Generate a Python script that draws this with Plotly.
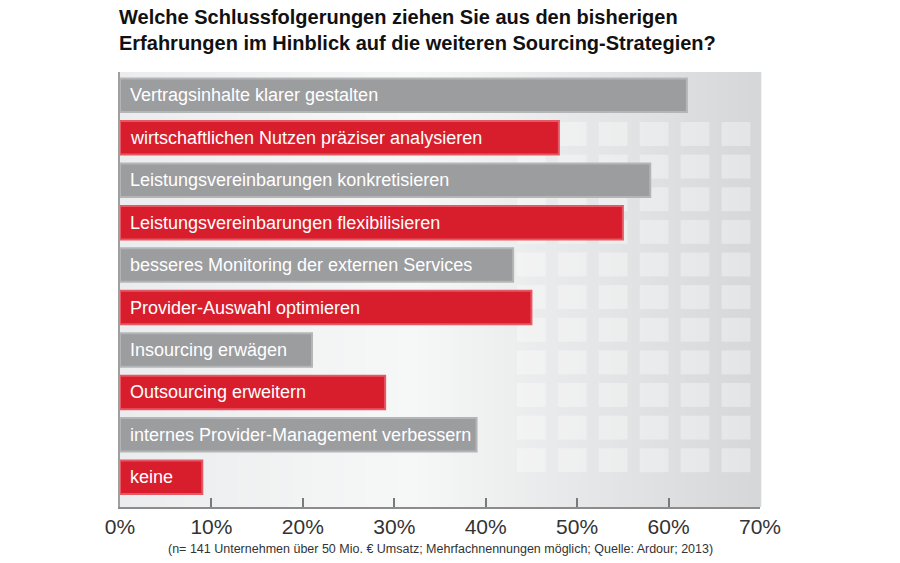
import plotly.graph_objects as go

# Daten aus der Grafik
kategorien = [
    "Vertragsinhalte klarer gestalten",
    "wirtschaftlichen Nutzen präziser analysieren",
    "Leistungsvereinbarungen konkretisieren",
    "Leistungsvereinbarungen flexibilisieren",
    "besseres Monitoring der externen Services",
    "Provider-Auswahl optimieren",
    "Insourcing erwägen",
    "Outsourcing erweitern",
    "internes Provider-Management verbessern",
    "keine",
]
werte = [62, 48, 58, 55, 43, 45, 21, 29, 39, 9]
tick_werte = [0, 10, 20, 30, 40, 50, 60, 70]
tick_text = ["0%", "10%", "20%", "30%", "40%", "50%", "60%", "70%"]

titel = ("Welche Schlussfolgerungen ziehen Sie aus den bisherigen<br>"
         "Erfahrungen im Hinblick auf die weiteren Sourcing-Strategien?")
quelle = ("(n= 141 Unternehmen über 50 Mio. € Umsatz; Mehrfachnennungen möglich; "
          "Quelle: Ardour; 2013)")

GRAU = "#9c9d9f"
GRAU_RAND = "#b4b5b7"
ROT = "#d81e2c"
ROT_RAND = "#e65863"

farben = [GRAU if i % 2 == 0 else ROT for i in range(len(kategorien))]
rand = [GRAU_RAND if i % 2 == 0 else ROT_RAND for i in range(len(kategorien))]

fig = go.Figure()

fig.add_trace(go.Bar(
    x=werte,
    y=kategorien,
    orientation="h",
    width=0.79,
    marker=dict(color=farben, line=dict(color=rand, width=2)),
    hoverinfo="x+y",
    showlegend=False,
))

# Beschriftung in den Balken
for kat in kategorien:
    fig.add_annotation(
        x=0, y=kat, xref="x", yref="y",
        text=kat, showarrow=False,
        xanchor="left", xshift=8,
        font=dict(family="Liberation Sans, Arial", size=18, color="white"),
    )

# Hintergrund: heller Verlauf im Diagrammbereich
def mische(c1, c2, t):
    a = [int(c1[i:i + 2], 16) for i in (1, 3, 5)]
    b = [int(c2[i:i + 2], 16) for i in (1, 3, 5)]
    return "rgb(%d,%d,%d)" % tuple(round(a[k] + (b[k] - a[k]) * t) for k in range(3))

stops = [(0.0, "#ebeced"), (0.45, "#f6f7f7"), (1.0, "#d6d7d9")]
n = 60
for i in range(n):
    p = (i + 0.5) / n
    for (p0, c0), (p1, c1) in zip(stops[:-1], stops[1:]):
        if p0 <= p <= p1:
            col = mische(c0, c1, (p - p0) / (p1 - p0))
    fig.add_shape(type="rect", xref="x domain", yref="y domain",
                  x0=i / n, x1=(i + 1) / n + 0.002, y0=0, y1=1,
                  fillcolor=col, line=dict(width=0), layer="below")

# angedeutete Fenster im Hintergrund
for c in range(6):
    for r in range(11):
        fig.add_shape(type="rect", xref="x domain", yref="y domain",
                      x0=0.62 + c * 0.064, x1=0.62 + c * 0.064 + 0.045,
                      y0=0.08 + r * 0.075, y1=0.08 + r * 0.075 + 0.055,
                      fillcolor="rgba(255,255,255,0.35)", line=dict(width=0),
                      layer="below")

# Titel (zweizeilig, links oben)
fig.add_annotation(
    x=-3 / 640, y=1, xref="paper", yref="paper", yshift=68,
    text=titel, showarrow=False, xanchor="left", yanchor="top", align="left",
    font=dict(family="Liberation Sans, Arial", size=20, color="#111111",
              weight="bold"),
)

fig.add_annotation(
    x=0.5, y=0, xref="paper", yref="paper", yshift=-33,
    text=quelle, showarrow=False, xanchor="center", yanchor="top",
    font=dict(family="Liberation Sans, Arial", size=12.5, color="#333333"),
)

fig.update_layout(
    width=900, height=563,
    margin=dict(l=120, r=140, t=72, b=56),
    paper_bgcolor="white",
    plot_bgcolor="#eeeeef",
    bargap=0.21,
    xaxis=dict(
        range=[0, 70], tickvals=tick_werte, ticktext=tick_text,
        showgrid=False, zeroline=False,
        showline=True, linecolor="#8c8c8c", linewidth=2,
        ticks="inside", ticklen=9, tickcolor="#7a7a7a", tickwidth=1.5,
        tickfont=dict(family="Liberation Sans Narrow, Liberation Sans, Arial",
                      size=21, color="#333333"),
        fixedrange=True,
    ),
    yaxis=dict(
        categoryorder="array", categoryarray=kategorien,
        range=[9.7, -0.55],
        showticklabels=False, showgrid=False, zeroline=False,
        showline=True, linecolor="#a0a0a0", linewidth=1.5,
        fixedrange=True,
    ),
)

fig.write_html("out.html", config={"displayModeBar": False},
               post_script="document.body.style.margin='0';")
